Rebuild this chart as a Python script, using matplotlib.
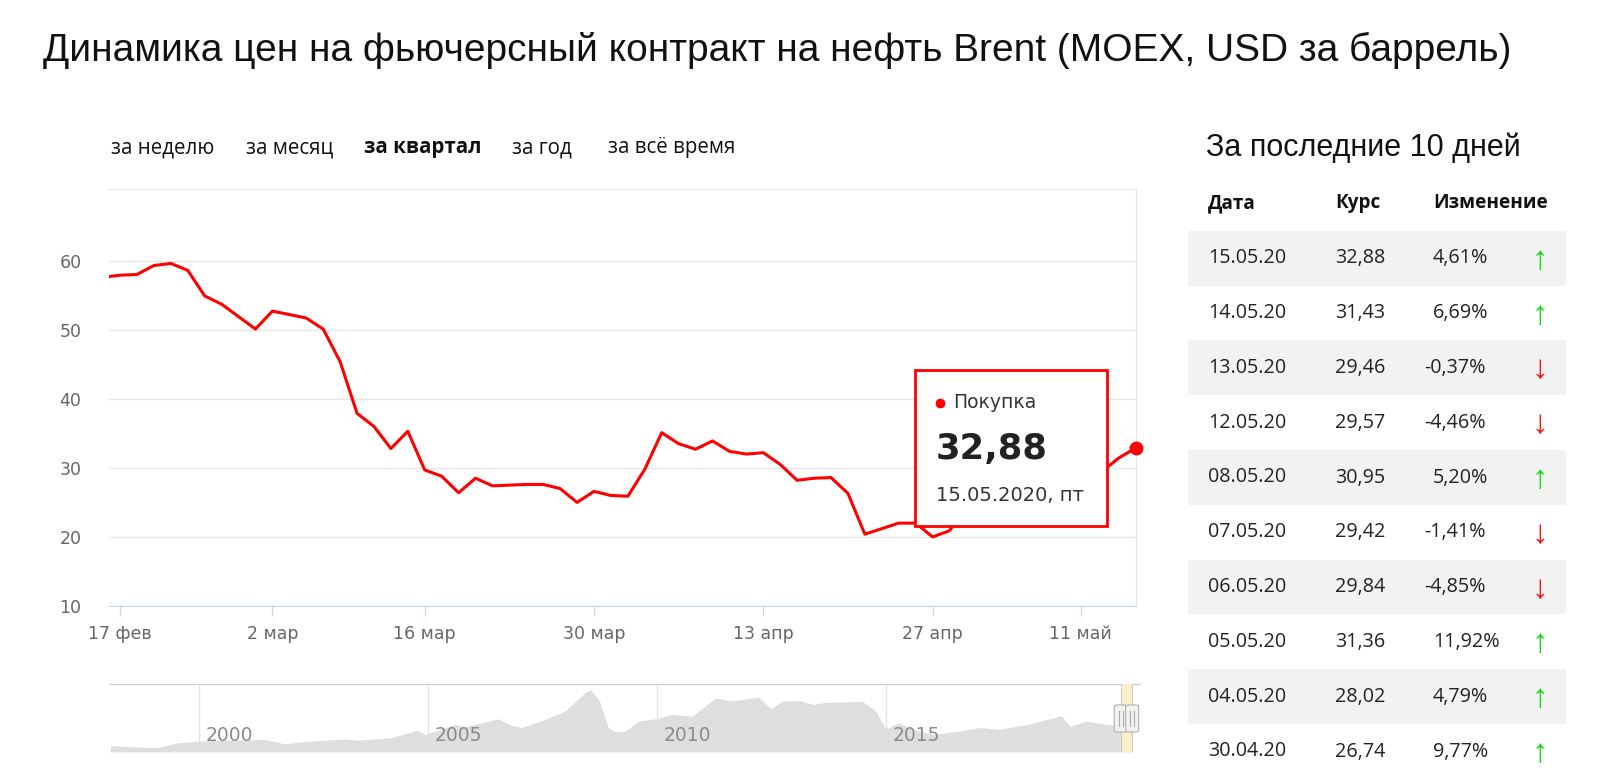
import numpy as np
import pandas as pd
import matplotlib
matplotlib.use("Agg")
import matplotlib.pyplot as plt
import matplotlib.dates as mdates
from matplotlib.patches import Rectangle, FancyBboxPatch
from matplotlib.transforms import blended_transform_factory, offset_copy

W, H = 1600, 782

# --- данные: торговые дни и цена "Покупка" ---
trade_dates = pd.to_datetime([
    "2020-02-14", "2020-02-17", "2020-02-18", "2020-02-19", "2020-02-20", "2020-02-21",
    "2020-02-25", "2020-02-26", "2020-02-27", "2020-02-28",
    "2020-03-02", "2020-03-03", "2020-03-04", "2020-03-05", "2020-03-06", "2020-03-10",
    "2020-03-11", "2020-03-12", "2020-03-13", "2020-03-16", "2020-03-17", "2020-03-18",
    "2020-03-19", "2020-03-20", "2020-03-23", "2020-03-24", "2020-03-25", "2020-03-26",
    "2020-03-27", "2020-03-30", "2020-03-31",
    "2020-04-01", "2020-04-02", "2020-04-03", "2020-04-06", "2020-04-07", "2020-04-08",
    "2020-04-09", "2020-04-10", "2020-04-13", "2020-04-14", "2020-04-15", "2020-04-16",
    "2020-04-17", "2020-04-20", "2020-04-21", "2020-04-22", "2020-04-23", "2020-04-24",
    "2020-04-27", "2020-04-28", "2020-04-29", "2020-04-30",
    "2020-05-04", "2020-05-05", "2020-05-06", "2020-05-07", "2020-05-08", "2020-05-12",
    "2020-05-13", "2020-05-14", "2020-05-15",
])
prices = [
    57.6, 57.9, 58.0, 59.3, 59.6, 58.6, 54.9, 53.7, 51.9, 50.1,
    52.7, 52.2, 51.7, 50.1, 45.4, 37.9, 36.0, 32.8, 35.3, 29.7, 28.8, 26.4,
    28.5, 27.4, 27.5, 27.6, 27.6, 27.0, 25.0, 26.6, 26.0,
    25.9, 29.8, 35.1, 33.5, 32.7, 33.9, 32.4, 32.0, 32.2, 30.5, 28.2, 28.5,
    28.6, 26.3, 20.4, 21.2, 22.0, 22.0, 20.0, 20.9, 24.36, 26.74,
    28.02, 31.36, 29.84, 29.42, 30.95, 29.57, 29.46, 31.43, 32.88,
]

tick_dates = pd.to_datetime(["2020-02-17", "2020-03-02", "2020-03-16", "2020-03-30",
                             "2020-04-13", "2020-04-27", "2020-05-11"])
tick_labels = ["17 фев", "2 мар", "16 мар", "30 мар", "13 апр", "27 апр", "11 май"]
y_ticks = [10, 20, 30, 40, 50, 60]

periods = ["за неделю", "за месяц", "за квартал", "за год", "за всё время"]
active_period = "за квартал"

table_dates = ["15.05.20", "14.05.20", "13.05.20", "12.05.20", "08.05.20",
               "07.05.20", "06.05.20", "05.05.20", "04.05.20", "30.04.20"]
table_rates = [32.88, 31.43, 29.46, 29.57, 30.95, 29.42, 29.84, 31.36, 28.02, 26.74]
table_changes = [4.61, 6.69, -0.37, -4.46, 5.20, -1.41, -4.85, 11.92, 4.79, 9.77]

# навигатор: вся история (год, USD)
nav_years = [1998.06, 1998.5, 1999.08, 1999.52, 2000.0, 2000.54, 2001.42, 2001.85, 2002.44,
             2003.17, 2003.46, 2004.19, 2004.77, 2004.92, 2005.58, 2005.8, 2006.53, 2006.82,
             2007.04, 2007.55, 2007.99, 2008.42, 2008.54, 2008.74, 2008.93, 2009.08, 2009.3,
             2009.59, 2010.0, 2010.32, 2010.76, 2011.27, 2011.64, 2012.22, 2012.48, 2012.73,
             2013.09, 2013.39, 2013.68, 2014.48, 2014.77, 2014.99, 2015.28, 2015.58, 2016.01,
             2016.6, 2017.04, 2017.47, 2018.06, 2018.64, 2018.82, 2019.01, 2019.37, 2019.81,
             2020.1, 2020.18, 2020.3, 2020.37]
nav_prices = [15, 12, 10, 21, 25, 27, 29, 19, 25, 30, 27, 33, 50, 40, 63, 58, 76, 61,
              56, 75, 94, 136, 143, 117, 56, 46, 48, 71, 77, 86, 82, 124, 117, 126, 99, 117,
              118, 109, 114, 116, 94, 53, 67, 52, 40, 48, 56, 52, 63, 78, 84, 59, 71, 63,
              61, 37, 22, 33]
nav_year_ticks = [2000, 2005, 2010, 2015]

WEEKDAYS = ["пн", "вт", "ср", "чт", "пт", "сб", "вс"]
RED = "#ff0000"


def fx(px):
    return px / W


def fy(py):
    return 1 - py / H


def comma(v):
    return f"{v:.2f}".replace(".", ",")


fig = plt.figure(figsize=(W / 100, H / 100), dpi=100)
fig.patch.set_facecolor("white")

# --- заголовок и вкладки ---
fig.text(fx(43), fy(50), "Динамика цен на фьючерсный контракт на нефть Brent (MOEX, USD за баррель)",
         fontsize=28, family="Liberation Sans", va="center", ha="left", color="#111")

tab_x = [111, 246.5, 364, 512, 607.5]
for x, p in zip(tab_x, periods):
    fig.text(fx(x), fy(148), p, fontsize=14.8, family="Open Sans", va="center", ha="left",
             color="#111", fontweight="bold" if p == active_period else "normal")

# --- основной график ---
ax = fig.add_axes([fx(109.2), fy(606), (1135.7 - 109.2) / W, (606 - 189) / H])
idx = np.arange(len(prices))
ax.plot(idx, prices, color=RED, lw=2.2, solid_joinstyle="round", zorder=3)
ax.plot(idx[-1], prices[-1], "o", ms=9, color=RED, clip_on=False, zorder=6)

ax.set_xlim(idx[0] + 0.36, idx[-1])
ax.set_ylim(10, 70.38)
tick_pos = np.interp(mdates.date2num(tick_dates), mdates.date2num(trade_dates), idx)
ax.set_xticks(tick_pos)
ax.set_xticklabels(tick_labels)
ax.set_yticks(y_ticks)
ax.yaxis.grid(True, color="#e6e6e6", lw=1.0)
ax.set_axisbelow(True)
ax.tick_params(axis="y", length=0, pad=20, labelsize=12.5, labelcolor="#666666")
ax.tick_params(axis="x", length=7.5, width=0.9, color="#ccd6eb", pad=6.5,
               labelsize=12.5, labelcolor="#666666")
for lbl in ax.get_xticklabels() + ax.get_yticklabels():
    lbl.set_family("DejaVu Sans")
ax.spines["left"].set_visible(False)
ax.spines["top"].set_color("#e6e6e6")
ax.spines["right"].set_color("#e6e6e6")
ax.spines["bottom"].set_color("#ccd6eb")

# --- всплывающая подсказка у последней точки ---
px, py = ax.transData.transform((idx[-1], prices[-1]))
fx0, fy0 = fig.transFigure.inverted().transform((px, py))
bx0 = fx0 - 221 / W
by0 = fy0 - 78 / H
fig.add_artist(Rectangle((bx0, by0), 192.6 / W, 156.4 / H, transform=fig.transFigure,
                         facecolor="white", edgecolor=RED, lw=2.0, zorder=5))
top = by0 + 156.4 / H
fig.add_artist(plt.Line2D([bx0 + 25.6 / W], [top - 33.4 / H], marker="o", ms=6, color=RED,
                          transform=fig.transFigure, zorder=6))
fig.text(bx0 + 38.6 / W, top - 33.4 / H, "Покупка", fontsize=13.5, color="#333",
         va="center", ha="left", zorder=6)
fig.text(bx0 + 20.5 / W, top - 79 / H, comma(prices[-1]), fontsize=25.5, fontweight="bold",
         color="#222", va="center", ha="left", zorder=6)
last = trade_dates[-1]
fig.text(bx0 + 21.6 / W, top - 125.7 / H,
         f"{last.strftime('%d.%m.%Y')}, {WEEKDAYS[last.weekday()]}",
         fontsize=14, color="#333", va="center", ha="left", zorder=6)

# --- навигатор ---
axn = fig.add_axes([fx(110), fy(752), (1140 - 110) / W, (752 - 684) / H])
axn.fill_between(nav_years, nav_prices, color="#dedede", lw=0, zorder=2)
axn.set_xlim(1998.05, 2020.54)
axn.set_ylim(0, 156)
axn.set_xticks([])
axn.set_yticks([])
for s in ["left", "right", "bottom"]:
    axn.spines[s].set_visible(False)
axn.spines["top"].set_color("#cccccc")
bt = offset_copy(blended_transform_factory(axn.transData, axn.transAxes), fig=fig,
                 x=6, y=0, units="dots")
for yr in nav_year_ticks:
    axn.axvline(yr, color="#e2e2e2", lw=1, zorder=1)
    axn.text(yr, 0.24, str(yr), transform=bt, fontsize=13.5, color="#8c8c8c",
             va="center", ha="left", zorder=4)


def dec_year(d):
    return d.year + (d.dayofyear - 1) / 366


sel0, sel1 = dec_year(trade_dates[0]), dec_year(trade_dates[-1])
axn.axvspan(sel0, sel1, color="#fcefc7", lw=0, zorder=3)
for s in (sel0, sel1):
    axn.axvline(s, color="#cccccc", lw=0.8, zorder=3)
for s in (sel0, sel1):
    hx, _ = axn.transData.transform((s, 0))
    hfx = fig.transFigure.inverted().transform((hx, 0))[0]
    fig.add_artist(FancyBboxPatch((hfx - 6.5 / W, fy(732)), 13 / W, 27 / H,
                                  boxstyle="round,pad=0,rounding_size=0.002",
                                  transform=fig.transFigure, facecolor="#f2f2f2",
                                  edgecolor="#b0b0b0", lw=0.8, zorder=7))
    for dx in (-2, 2):
        fig.add_artist(plt.Line2D([hfx + dx / W] * 2, [fy(726), fy(711)], color="#aaaaaa",
                                  lw=0.8, transform=fig.transFigure, zorder=8))

# --- таблица за последние 10 дней ---
fig.text(fx(1206), fy(148), "За последние 10 дней", fontsize=22, family="Liberation Sans",
         va="center", ha="left", color="#111")
tfam = ["Open Sans", "DejaVu Sans"]
for x, h in zip([1208, 1335, 1433], ["Дата", "Курс", "Изменение"]):
    fig.text(fx(x), fy(203), h, fontsize=13.6, fontweight="bold", family=tfam,
             va="center", ha="left", color="#111")

row_h = 54.8
for i, (d, r, c) in enumerate(zip(table_dates, table_rates, table_changes)):
    yc = 258.3 + i * row_h
    if i % 2 == 0:
        fig.add_artist(Rectangle((fx(1188), fy(yc + row_h / 2)), (1566 - 1188) / W, row_h / H,
                                 transform=fig.transFigure, facecolor="#f2f2f2", lw=0, zorder=0))
    fig.text(fx(1208), fy(yc), d, fontsize=14.2, family=tfam, va="center", ha="left", color="#222")
    fig.text(fx(1335), fy(yc), comma(r), fontsize=14.2, family=tfam, va="center", ha="left",
             color="#222")
    if c < 0:
        fig.text(fx(1424), fy(yc), "-" + comma(abs(c)) + "%", fontsize=14.2, family=tfam,
                 va="center", ha="left", color="#222")
    else:
        fig.text(fx(1433), fy(yc), comma(c) + "%", fontsize=14.2, family=tfam,
                 va="center", ha="left", color="#222")
    fig.text(fx(1540), fy(yc + 2), "↑" if c >= 0 else "↓", fontsize=24,
             family=["Liberation Sans", "DejaVu Sans"], va="center", ha="center",
             color="#17d817" if c >= 0 else "#f01818")

fig.savefig("out.png", dpi=100, facecolor="white")
